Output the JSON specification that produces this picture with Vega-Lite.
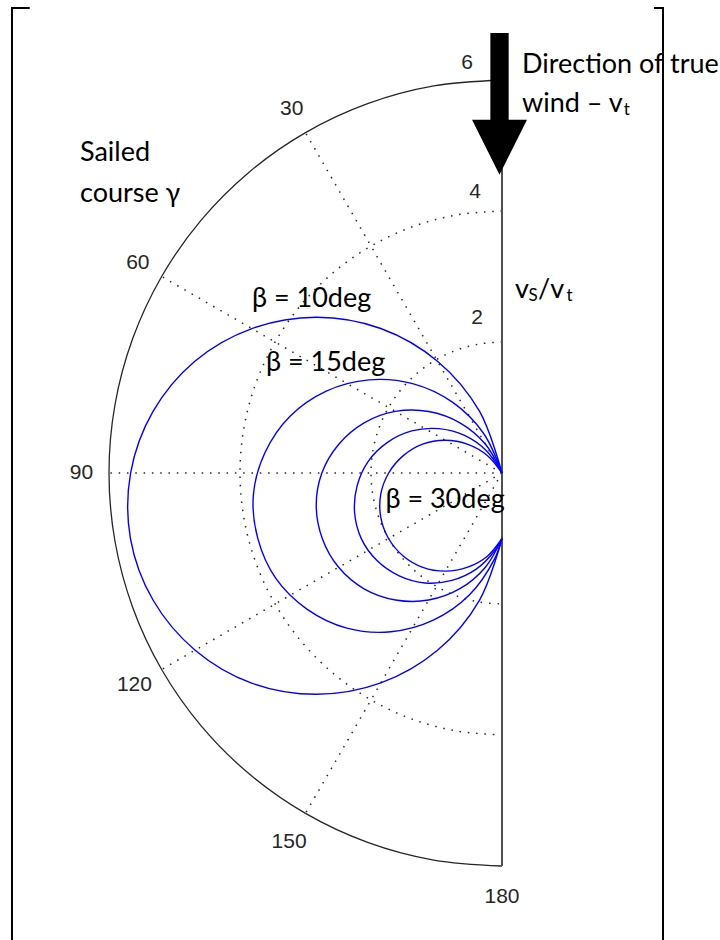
{
  "$schema": "https://vega.github.io/schema/vega-lite/v6.json",
  "width": 720,
  "height": 940,
  "autosize": {"type": "none"},
  "padding": 0,
  "background": "white",
  "config": {"view": {"stroke": null}},
  "datasets": {
    "rings": [
      {"r": 2, "g": 0}, {"r": 2, "g": 10}, {"r": 2, "g": 20}, {"r": 2, "g": 30}, {"r": 2, "g": 40}, {"r": 2, "g": 50}, {"r": 2, "g": 60}, {"r": 2, "g": 70}, {"r": 2, "g": 80}, {"r": 2, "g": 90}, {"r": 2, "g": 100}, {"r": 2, "g": 110}, {"r": 2, "g": 120}, {"r": 2, "g": 130}, {"r": 2, "g": 140}, {"r": 2, "g": 150}, {"r": 2, "g": 160}, {"r": 2, "g": 170}, {"r": 2, "g": 180},
      {"r": 4, "g": 0}, {"r": 4, "g": 10}, {"r": 4, "g": 20}, {"r": 4, "g": 30}, {"r": 4, "g": 40}, {"r": 4, "g": 50}, {"r": 4, "g": 60}, {"r": 4, "g": 70}, {"r": 4, "g": 80}, {"r": 4, "g": 90}, {"r": 4, "g": 100}, {"r": 4, "g": 110}, {"r": 4, "g": 120}, {"r": 4, "g": 130}, {"r": 4, "g": 140}, {"r": 4, "g": 150}, {"r": 4, "g": 160}, {"r": 4, "g": 170}, {"r": 4, "g": 180},
      {"r": 6, "g": 0}, {"r": 6, "g": 10}, {"r": 6, "g": 20}, {"r": 6, "g": 30}, {"r": 6, "g": 40}, {"r": 6, "g": 50}, {"r": 6, "g": 60}, {"r": 6, "g": 70}, {"r": 6, "g": 80}, {"r": 6, "g": 90}, {"r": 6, "g": 100}, {"r": 6, "g": 110}, {"r": 6, "g": 120}, {"r": 6, "g": 130}, {"r": 6, "g": 140}, {"r": 6, "g": 150}, {"r": 6, "g": 160}, {"r": 6, "g": 170}, {"r": 6, "g": 180}
    ],
    "spokes": [
      {"g": 30, "r": 0}, {"g": 30, "r": 6},
      {"g": 60, "r": 0}, {"g": 60, "r": 6},
      {"g": 90, "r": 0}, {"g": 90, "r": 6},
      {"g": 120, "r": 0}, {"g": 120, "r": 6},
      {"g": 150, "r": 0}, {"g": 150, "r": 6}
    ],
    "curves": [
      {"beta": 10, "g": 10, "r": 0}, {"beta": 10, "g": 20, "r": 1.0}, {"beta": 10, "g": 30, "r": 1.97}, {"beta": 10, "g": 40, "r": 2.88}, {"beta": 10, "g": 50, "r": 3.7}, {"beta": 10, "g": 60, "r": 4.41}, {"beta": 10, "g": 70, "r": 4.99}, {"beta": 10, "g": 80, "r": 5.41}, {"beta": 10, "g": 90, "r": 5.67}, {"beta": 10, "g": 100, "r": 5.76}, {"beta": 10, "g": 110, "r": 5.67}, {"beta": 10, "g": 120, "r": 5.41}, {"beta": 10, "g": 130, "r": 4.99}, {"beta": 10, "g": 140, "r": 4.41}, {"beta": 10, "g": 150, "r": 3.7}, {"beta": 10, "g": 160, "r": 2.88}, {"beta": 10, "g": 170, "r": 1.97}, {"beta": 10, "g": 180, "r": 1.0},
      {"beta": 15, "g": 15, "r": 0}, {"beta": 15, "g": 25, "r": 0.67}, {"beta": 15, "g": 35, "r": 1.32}, {"beta": 15, "g": 45, "r": 1.93}, {"beta": 15, "g": 55, "r": 2.48}, {"beta": 15, "g": 65, "r": 2.96}, {"beta": 15, "g": 75, "r": 3.35}, {"beta": 15, "g": 85, "r": 3.63}, {"beta": 15, "g": 95, "r": 3.81}, {"beta": 15, "g": 105, "r": 3.86}, {"beta": 15, "g": 115, "r": 3.81}, {"beta": 15, "g": 125, "r": 3.63}, {"beta": 15, "g": 135, "r": 3.35}, {"beta": 15, "g": 145, "r": 2.96}, {"beta": 15, "g": 155, "r": 2.48}, {"beta": 15, "g": 165, "r": 1.93}, {"beta": 15, "g": 175, "r": 1.32}, {"beta": 15, "g": 180, "r": 1.0},
      {"beta": 20, "g": 20, "r": 0}, {"beta": 20, "g": 30, "r": 0.51}, {"beta": 20, "g": 40, "r": 1.0}, {"beta": 20, "g": 50, "r": 1.46}, {"beta": 20, "g": 60, "r": 1.88}, {"beta": 20, "g": 70, "r": 2.24}, {"beta": 20, "g": 80, "r": 2.53}, {"beta": 20, "g": 90, "r": 2.75}, {"beta": 20, "g": 100, "r": 2.88}, {"beta": 20, "g": 110, "r": 2.92}, {"beta": 20, "g": 120, "r": 2.88}, {"beta": 20, "g": 130, "r": 2.75}, {"beta": 20, "g": 140, "r": 2.53}, {"beta": 20, "g": 150, "r": 2.24}, {"beta": 20, "g": 160, "r": 1.88}, {"beta": 20, "g": 170, "r": 1.46}, {"beta": 20, "g": 180, "r": 1.0},
      {"beta": 25, "g": 25, "r": 0}, {"beta": 25, "g": 35, "r": 0.41}, {"beta": 25, "g": 45, "r": 0.81}, {"beta": 25, "g": 55, "r": 1.18}, {"beta": 25, "g": 65, "r": 1.52}, {"beta": 25, "g": 75, "r": 1.81}, {"beta": 25, "g": 85, "r": 2.05}, {"beta": 25, "g": 95, "r": 2.22}, {"beta": 25, "g": 105, "r": 2.33}, {"beta": 25, "g": 115, "r": 2.37}, {"beta": 25, "g": 125, "r": 2.33}, {"beta": 25, "g": 135, "r": 2.22}, {"beta": 25, "g": 145, "r": 2.05}, {"beta": 25, "g": 155, "r": 1.81}, {"beta": 25, "g": 165, "r": 1.52}, {"beta": 25, "g": 175, "r": 1.18}, {"beta": 25, "g": 180, "r": 1.0},
      {"beta": 30, "g": 30, "r": 0}, {"beta": 30, "g": 40, "r": 0.35}, {"beta": 30, "g": 50, "r": 0.68}, {"beta": 30, "g": 60, "r": 1.0}, {"beta": 30, "g": 70, "r": 1.29}, {"beta": 30, "g": 80, "r": 1.53}, {"beta": 30, "g": 90, "r": 1.73}, {"beta": 30, "g": 100, "r": 1.88}, {"beta": 30, "g": 110, "r": 1.97}, {"beta": 30, "g": 120, "r": 2.0}, {"beta": 30, "g": 130, "r": 1.97}, {"beta": 30, "g": 140, "r": 1.88}, {"beta": 30, "g": 150, "r": 1.73}, {"beta": 30, "g": 160, "r": 1.53}, {"beta": 30, "g": 170, "r": 1.29}, {"beta": 30, "g": 180, "r": 1.0}
    ],
    "angleTicks": [
      {"lab": "30", "g": 30, "r": 6.42}, {"lab": "60", "g": 60, "r": 6.42}, {"lab": "90", "g": 90, "r": 6.42}, {"lab": "120", "g": 120, "r": 6.48}, {"lab": "150", "g": 150, "r": 6.5}, {"lab": "180", "g": 180, "r": 6.47}
    ],
    "radiusTicks": [
      {"lab": "6", "x": -0.534, "y": 6.26}, {"lab": "4", "x": -0.412, "y": 4.29}, {"lab": "2", "x": -0.382, "y": 2.366}
    ],
    "notes": [
      {"t": "Sailed", "x": -6.443, "y": 4.763},
      {"t": "course γ", "x": -6.443, "y": 4.137},
      {"t": "Direction of true", "x": 0.305, "y": 6.107},
      {"t": "wind – v", "x": 0.305, "y": 5.511},
      {"t": "v", "x": 0.198, "y": 2.672},
      {"t": "/v", "x": 0.55, "y": 2.672},
      {"t": "β = 10deg", "x": -3.817, "y": 2.534},
      {"t": "β = 15deg", "x": -3.603, "y": 1.557},
      {"t": "β = 30deg", "x": -1.78, "y": -0.534}
    ],
    "subs": [
      {"t": "t", "x": 1.86, "y": 5.466},
      {"t": "S", "x": 0.405, "y": 2.626},
      {"t": "t", "x": 0.985, "y": 2.626}
    ],
    "frame": [
      {"s": "left", "o": 0, "x": -7.21, "y": 7.1}, {"s": "left", "o": 1, "x": -7.481, "y": 7.1}, {"s": "left", "o": 2, "x": -7.481, "y": -7.13},
      {"s": "right", "o": 0, "x": 2.32, "y": 7.1}, {"s": "right", "o": 1, "x": 2.458, "y": 7.1}, {"s": "right", "o": 2, "x": 2.458, "y": -7.13}
    ]
  },
  "encoding": {
    "x": {"field": "x", "type": "quantitative", "scale": {"domain": [-7.6641, 3.3282], "nice": false, "zero": false}, "axis": null},
    "y": {"field": "y", "type": "quantitative", "scale": {"domain": [-7.1298, 7.2214], "nice": false, "zero": false}, "axis": null}
  },
  "layer": [
    {
      "data": {"name": "frame"},
      "mark": {"type": "line", "stroke": "#000000", "strokeWidth": 2},
      "encoding": {"detail": {"field": "s", "type": "nominal"}, "order": {"field": "o", "type": "quantitative"}}
    },
    {
      "data": {"name": "rings"},
      "transform": [
        {"filter": "datum.r < 6"},
        {"calculate": "-datum.r * sin(datum.g * PI / 180)", "as": "x"},
        {"calculate": "datum.r * cos(datum.g * PI / 180)", "as": "y"}
      ],
      "mark": {"type": "line", "interpolate": "catmull-rom", "stroke": "#262626", "strokeWidth": 1.5, "strokeDash": [1.5, 6.8]},
      "encoding": {"detail": {"field": "r", "type": "nominal"}, "order": {"field": "g", "type": "quantitative"}}
    },
    {
      "data": {"name": "spokes"},
      "transform": [
        {"calculate": "-datum.r * sin(datum.g * PI / 180)", "as": "x"},
        {"calculate": "datum.r * cos(datum.g * PI / 180)", "as": "y"}
      ],
      "mark": {"type": "line", "stroke": "#262626", "strokeWidth": 1.5, "strokeDash": [1.5, 6.8]},
      "encoding": {"detail": {"field": "g", "type": "nominal"}, "order": {"field": "r", "type": "quantitative"}}
    },
    {
      "data": {"name": "rings"},
      "transform": [
        {"filter": "datum.r == 6"},
        {"calculate": "-datum.r * sin(datum.g * PI / 180)", "as": "x"},
        {"calculate": "datum.r * cos(datum.g * PI / 180)", "as": "y"}
      ],
      "mark": {"type": "line", "interpolate": "catmull-rom", "stroke": "#262626", "strokeWidth": 1.3},
      "encoding": {"order": {"field": "g", "type": "quantitative"}}
    },
    {
      "data": {"values": [{"x": 0, "y": 6}, {"x": 0, "y": -6}]},
      "mark": {"type": "line", "stroke": "#505050", "strokeWidth": 2},
      "encoding": {}
    },
    {
      "data": {"name": "curves"},
      "transform": [
        {"calculate": "-datum.r * sin(datum.g * PI / 180)", "as": "x"},
        {"calculate": "datum.r * cos(datum.g * PI / 180)", "as": "y"}
      ],
      "mark": {"type": "line", "interpolate": "catmull-rom", "stroke": "#0000ff", "strokeWidth": 1.4},
      "encoding": {"detail": {"field": "beta", "type": "nominal"}, "order": {"field": "g", "type": "quantitative"}}
    },
    {
      "data": {"values": [{"x": -0.038, "y": 5.634}]},
      "mark": {"type": "point", "filled": true, "fill": "#000000", "stroke": null, "opacity": 1, "size": 20079, "shape": "M-0.129,-1L0.129,-1L0.129,0.223L0.388,0.223L0,1L-0.388,0.223L-0.129,0.223Z"}
    },
    {
      "data": {"name": "angleTicks"},
      "transform": [
        {"calculate": "-datum.r * sin(datum.g * PI / 180)", "as": "x"},
        {"calculate": "datum.r * cos(datum.g * PI / 180)", "as": "y"}
      ],
      "mark": {"type": "text", "font": "Liberation Sans Narrow, Liberation Sans", "fontSize": 21, "fill": "#262626", "align": "center", "baseline": "middle"},
      "encoding": {"text": {"field": "lab"}}
    },
    {
      "data": {"name": "radiusTicks"},
      "mark": {"type": "text", "font": "Liberation Sans Narrow, Liberation Sans", "fontSize": 21, "fill": "#262626", "align": "center", "baseline": "middle"},
      "encoding": {"text": {"field": "lab"}}
    },
    {
      "data": {"name": "notes"},
      "mark": {"type": "text", "font": "Lato, Noto Sans", "fontSize": 27, "fill": "#000000", "align": "left", "baseline": "alphabetic"},
      "encoding": {"text": {"field": "t"}}
    },
    {
      "data": {"name": "subs"},
      "mark": {"type": "text", "font": "Lato, Noto Sans", "fontSize": 17, "fill": "#000000", "align": "left", "baseline": "alphabetic"},
      "encoding": {"text": {"field": "t"}}
    }
  ]
}
